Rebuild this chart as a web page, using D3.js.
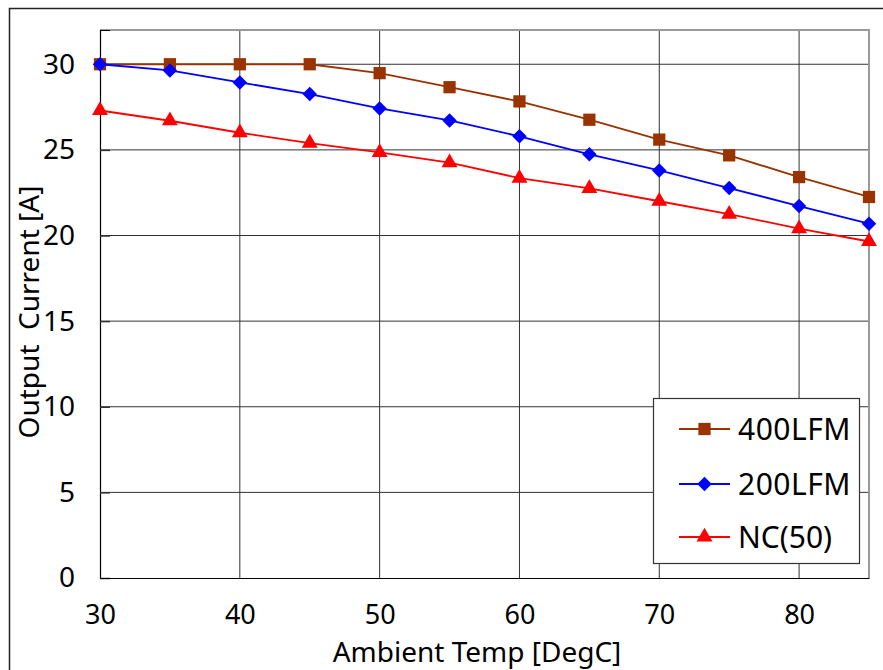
<!DOCTYPE html>
<html>
<head>
<meta charset="utf-8">
<script src="https://cdn.jsdelivr.net/npm/d3@7"></script>
<style>
  html, body { margin: 0; padding: 0; background: #fff; }
  svg { display: block; }
  text { font-family: "Noto Sans", "Open Sans", sans-serif; fill: #000; }
</style>
</head>
<body>
<svg id="chart" width="883" height="670"></svg>
<script>
const temps = [30, 35, 40, 45, 50, 55, 60, 65, 70, 75, 80, 85];
const lfm400 = [30.0, 30.0, 30.0, 30.0, 29.48, 28.66, 27.83, 26.76, 25.6, 24.68, 23.41, 22.25];
const lfm200 = [30.0, 29.64, 28.94, 28.26, 27.42, 26.72, 25.79, 24.74, 23.8, 22.77, 21.72, 20.69];
const nc50   = [27.3, 26.7, 26.0, 25.4, 24.85, 24.25, 23.35, 22.75, 22.0, 21.25, 20.4, 19.65];
const seriesNames = ["400LFM", "200LFM", "NC(50)"];
const xTicks = [30, 40, 50, 60, 70, 80];
const yTicks = [0, 5, 10, 15, 20, 25, 30];
const xTitle = "Ambient Temp [DegC]";
const yTitle = "Output  Current [A]";

const series = [
  { name: seriesNames[0], values: lfm400, color: "#993300", symbol: d3.symbolSquare, size: 150, rot: 0 },
  { name: seriesNames[1], values: lfm200, color: "#0000ff", symbol: d3.symbolSquare, size: 105, rot: 45 },
  { name: seriesNames[2], values: nc50,   color: "#ff0000", symbol: d3.symbolTriangle, size: 110, rot: 0 }
];

const svg = d3.select("#chart");
const L = 100, R = 869, T = 30, B = 578;
const x = d3.scaleLinear().domain([30, 85]).range([L, R]);
const y = d3.scaleLinear().domain([0, 32]).range([B, T]);

// outer frame
svg.append("rect").attr("x", 9.5).attr("y", 8.5).attr("width", 1000).attr("height", 1000)
  .attr("fill", "none").attr("stroke", "#222").attr("stroke-width", 1.5);

// gridlines
svg.append("g").selectAll("line").data(yTicks.filter(d => d > 0)).join("line")
  .attr("x1", L).attr("x2", R).attr("y1", d => y(d)).attr("y2", d => y(d))
  .attr("stroke", "#333").attr("stroke-width", 1);
svg.append("g").selectAll("line").data(xTicks.filter(d => d > 30)).join("line")
  .attr("y1", T).attr("y2", B).attr("x1", d => x(d)).attr("x2", d => x(d))
  .attr("stroke", "#333").attr("stroke-width", 1);

// top & right border (gray)
svg.append("path")
  .attr("d", `M${L},${T}H${R}V${B}`)
  .attr("fill", "none").attr("stroke", "#999").attr("stroke-width", 2);

// axes
const yAxis = d3.axisLeft(y).tickValues(yTicks).tickSize(-10).tickPadding(25);
const gy = svg.append("g").attr("transform", `translate(${L},0)`).call(yAxis);
gy.select(".domain").attr("stroke", "#000").attr("stroke-width", 1.2);
gy.selectAll(".tick line").attr("stroke", "#333").attr("stroke-width", 1.5);
gy.selectAll(".tick text").attr("font-size", 28).attr("font-family", "Noto Sans").attr("fill", "#000");

const xAxis = d3.axisBottom(x).tickValues(xTicks).tickSize(0).tickPadding(27);
const gx = svg.append("g").attr("transform", `translate(0,${B})`).call(xAxis);
gx.select(".domain").attr("stroke", "#000").attr("stroke-width", 1.2);
gx.selectAll(".tick text").attr("font-size", 27).attr("font-family", "Noto Sans").attr("fill", "#000");

// axis titles
svg.append("text").attr("x", 477).attr("y", 662).attr("text-anchor", "middle")
  .attr("font-size", 28).text(xTitle);
svg.append("text").attr("transform", "translate(39,312) rotate(-90)")
  .attr("text-anchor", "middle").attr("font-size", 28)
  .style("white-space", "pre").text(yTitle);

// series
const line = d3.line().x((d, i) => x(temps[i])).y(d => y(d));
series.forEach(s => {
  svg.append("path").datum(s.values).attr("d", line)
    .attr("fill", "none").attr("stroke", s.color).attr("stroke-width", 1.8);
  svg.append("g").selectAll("path").data(s.values).join("path")
    .attr("transform", (d, i) => `translate(${x(temps[i])},${y(d)}) rotate(${s.rot})`)
    .attr("d", d3.symbol().type(s.symbol).size(s.size))
    .attr("fill", s.color);
});

// legend
const lg = svg.append("g");
lg.append("rect").attr("x", 653.5).attr("y", 398.5).attr("width", 206).attr("height", 165)
  .attr("fill", "#fff").attr("stroke", "#333").attr("stroke-width", 1.2);
const rows = [429, 484, 537];
series.forEach((s, i) => {
  const cy = rows[i];
  lg.append("line").attr("x1", 679).attr("x2", 730).attr("y1", cy).attr("y2", cy)
    .attr("stroke", s.color).attr("stroke-width", 1.8);
  lg.append("path").attr("transform", `translate(704.5,${cy}) rotate(${s.rot})`)
    .attr("d", d3.symbol().type(s.symbol).size(s.size)).attr("fill", s.color);
  lg.append("text").attr("x", 738).attr("y", cy + 11).attr("font-size", 30)
    .attr("letter-spacing", i < 2 ? 0.5 : 0).text(s.name);
});
</script>
</body>
</html>
